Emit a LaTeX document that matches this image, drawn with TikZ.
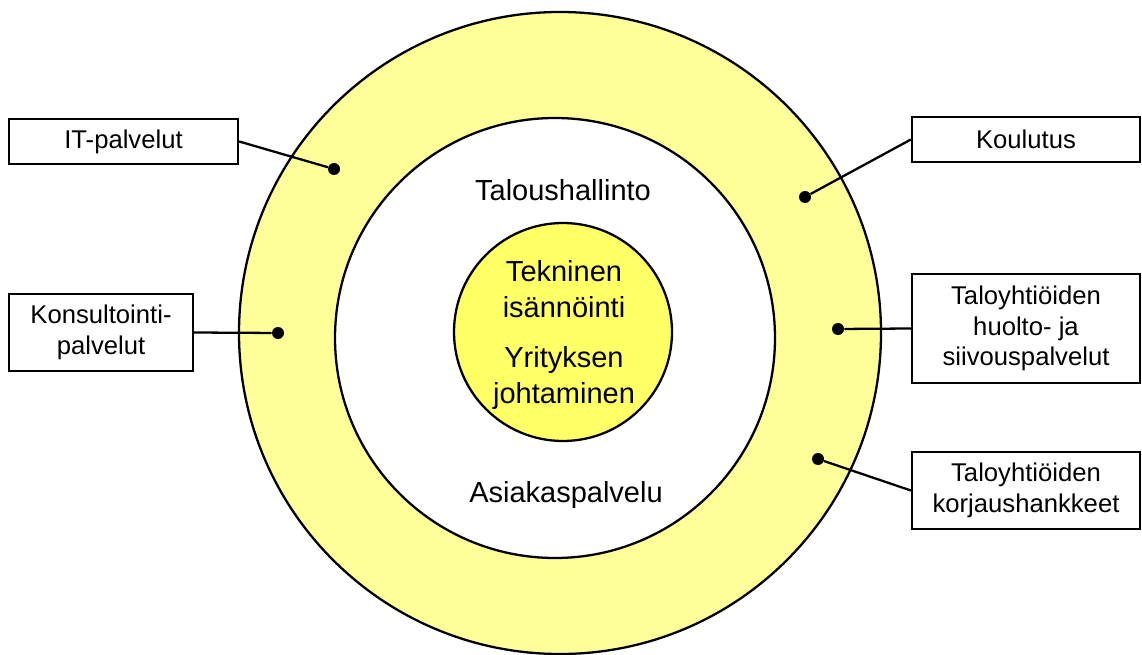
\documentclass[tikz,border=0pt]{standalone}
\usepackage{fontspec}
\setmainfont{Liberation Sans}
\definecolor{vaalea}{HTML}{FFFF99}
\definecolor{keltainen}{HTML}{FFFF66}
\begin{document}
\begin{tikzpicture}[x=0.2mm, y=-0.2mm]
	\tikzset{kehys/.style={draw=black, line width=1.3pt, fill=white, align=center, inner sep=0pt, font=\fontsize{14.6}{17.3}\selectfont},
		piste/.style={circle, fill=black, inner sep=0pt, minimum size=2.4mm},
		viiva/.style={line width=1.3pt},
		iso/.style={align=center, font=\fontsize{16.5}{20.5}\selectfont}};

	\useasboundingbox (0,0) rectangle (1142,655);

	\filldraw[fill=vaalea, line width=1.3pt] (560,333) circle (321);
	\filldraw[fill=white, line width=1.3pt] (555,338) circle (220);
	\filldraw[fill=keltainen, line width=1.3pt] (563,332) circle (109);

	\node[iso] (talous) at (563,190) {Taloushallinto};
	\node[iso] (asiakas) at (566,495) {Asiakaspalvelu};
	\node[iso] (tekninen) at (564,289.5) {Tekninen\\isännöinti};
	\node[iso] (yritys) at (564,378) {Yrityksen\\johtaminen};

	\node[piste] (p1) at (334,169) {};
	\node[piste] (p2) at (278,333) {};
	\node[piste] (p3) at (805,197) {};
	\node[piste] (p4) at (838,329) {};
	\node[piste] (p5) at (818,459) {};

	\node[kehys, minimum width=45.8mm, minimum height=9mm] (it) at (123.5,141.5) {IT-palvelut};
	\node[kehys, minimum width=36.8mm, minimum height=15.4mm] (konsultointi) at (101,332.5) {Konsultointi-\\palvelut};
	\node[kehys, minimum width=45.6mm, minimum height=9mm] (koulutus) at (1026,139.5) {Koulutus};
	\node[kehys, minimum width=45.6mm, minimum height=21.8mm] (huolto) at (1026,328.5) {Taloyhtiöiden\\huolto- ja\\siivouspalvelut};
	\node[kehys, minimum width=45.6mm, minimum height=15.4mm] (korjaus) at (1026,490.5) {Taloyhtiöiden\\korjaushankkeet};

	\draw[viiva] (it.east) -- (p1);
	\draw[viiva] (konsultointi.east) -- (p2);
	\draw[viiva] (koulutus.west) -- (p3);
	\draw[viiva] (huolto.west) -- (p4);
	\draw[viiva] (korjaus.west) -- (p5);
\end{tikzpicture}
\end{document}
